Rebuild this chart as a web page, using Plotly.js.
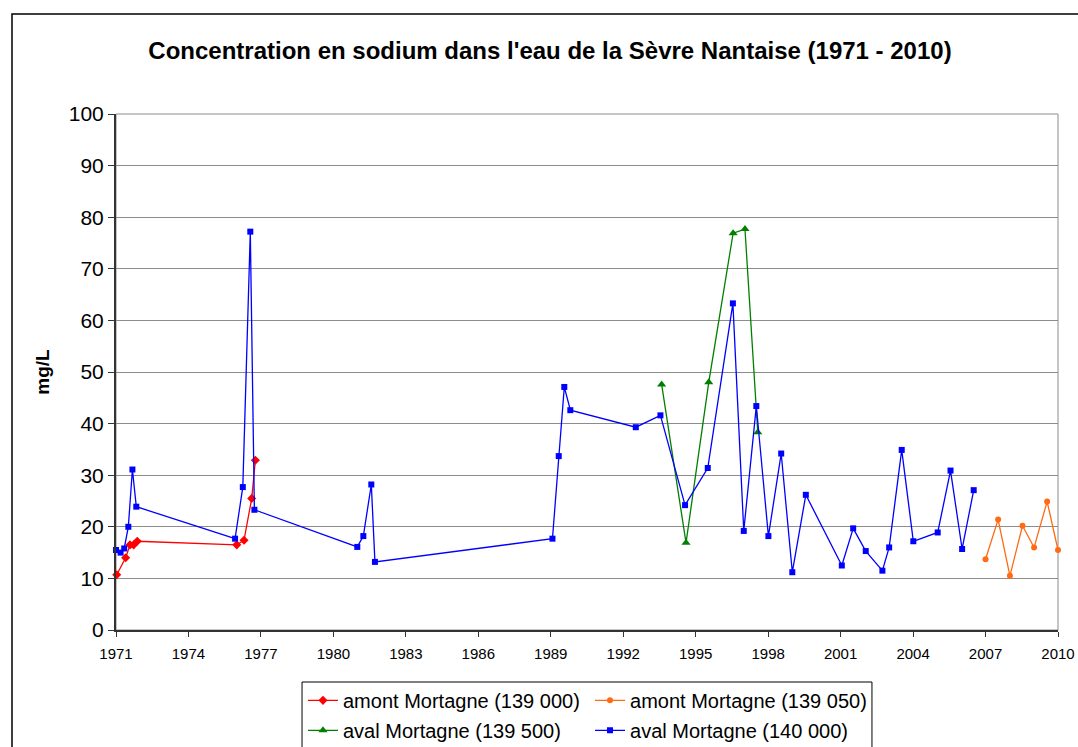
<!DOCTYPE html>
<html>
<head>
<meta charset="utf-8">
<script src="https://cdn.plot.ly/plotly-3.0.1.min.js"></script>
<style>
html,body{margin:0;padding:0;background:#fff;overflow:hidden;}
#chart{width:1078px;height:747px;}
</style>
</head>
<body>
<div id="chart"></div>
<script>
// ---- data (decimal years, mg/L) ----
const amont139000_x = [1971.03, 1971.40, 1971.58, 1971.73, 1971.88, 1976.00, 1976.30, 1976.62, 1976.77];
const amont139000_y = [10.7, 14.0, 16.5, 16.5, 17.2, 16.5, 17.4, 25.5, 32.9];

const amont139050_x = [2007.00, 2007.52, 2008.01, 2008.53, 2009.01, 2009.55, 2010.00];
const amont139050_y = [13.7, 21.4, 10.5, 20.2, 16.0, 24.9, 15.5];

const aval139500_x = [1993.59, 1994.60, 1995.54, 1996.55, 1997.04, 1997.57];
const aval139500_y = [47.6, 16.9, 48.0, 76.9, 77.7, 38.3];

const aval140000_x = [1971.00, 1971.19, 1971.34, 1971.51, 1971.68, 1971.84, 1975.93, 1976.25, 1976.56, 1976.73,
  1980.99, 1981.24, 1981.57, 1981.72, 1989.07, 1989.33, 1989.56, 1989.81, 1992.52, 1993.54,
  1994.56, 1995.50, 1996.54, 1996.99, 1997.51, 1998.01, 1998.54, 1999.00, 1999.56, 2001.05,
  2001.52, 2002.04, 2002.73, 2003.01, 2003.53, 2004.01, 2005.02, 2005.55, 2006.03, 2006.51];
const aval140000_y = [15.5, 15.0, 15.8, 20.0, 31.1, 23.9, 17.7, 27.7, 77.2, 23.3,
  16.1, 18.2, 28.2, 13.2, 17.7, 33.7, 47.1, 42.6, 39.3, 41.6,
  24.2, 31.4, 63.3, 19.2, 43.4, 18.2, 34.2, 11.2, 26.2, 12.5,
  19.7, 15.3, 11.5, 16.0, 34.9, 17.2, 18.9, 30.9, 15.7, 27.1];

const seriesNames = ["amont Mortagne (139 000)", "amont Mortagne (139 050)", "aval Mortagne (139 500)", "aval Mortagne (140 000)"];
const xTickYears = [1971, 1974, 1977, 1980, 1983, 1986, 1989, 1992, 1995, 1998, 2001, 2004, 2007, 2010];
const yTicks = [0, 10, 20, 30, 40, 50, 60, 70, 80, 90, 100];

const FONT = "Arial, 'Liberation Sans', sans-serif";

function tr(x, y, name, color, symbol, size, legend, group) {
  return {
    type: 'scatter', mode: 'lines+markers', x: x, y: y, name: name,
    line: {color: color, width: 1.3},
    marker: {color: color, symbol: symbol, size: size, line: {width: 0}},
    legend: legend, legendgroup: group, cliponaxis: false
  };
}

const data = [
  tr(amont139000_x, amont139000_y, seriesNames[0], '#FF0000', 'diamond', 7, 'legend', 'a'),
  tr(amont139050_x, amont139050_y, seriesNames[1], '#FF6A13', 'circle', 6, 'legend2', 'b'),
  tr(aval139500_x, aval139500_y, seriesNames[2], '#008000', 'triangle-up', 8, 'legend', 'c'),
  tr(aval140000_x, aval140000_y, seriesNames[3], '#0000FF', 'square', 6, 'legend2', 'd')
];

const legendCommon = {
  orientation: 'v', traceorder: 'grouped', tracegroupgap: 1,
  font: {family: FONT, size: 20, color: '#000'},
  bgcolor: 'rgba(0,0,0,0)', borderwidth: 0,
  xanchor: 'left', yanchor: 'top', y: -0.0985
};

const layout = {
  width: 1078, height: 747,
  paper_bgcolor: '#fff', plot_bgcolor: '#fff',
  margin: {l: 116, r: 20, t: 114, b: 117, autoexpand: false},
  title: {
    text: "Concentration en sodium dans l'eau de la Sèvre Nantaise (1971 - 2010)",
    font: {family: FONT, size: 24, color: '#000', weight: 'bold'},
    xref: 'container', x: 0.5102, xanchor: 'center',
    yref: 'container', y: 0.932, yanchor: 'middle'
  },
  xaxis: {
    range: [1971, 2010], tickmode: 'array', tickvals: xTickYears, ticktext: xTickYears.map(String),
    showgrid: false, zeroline: false,
    showline: true, linecolor: '#333', linewidth: 2,
    ticks: 'outside', ticklen: 5, tickcolor: '#333', tickwidth: 1,
    ticklabelstandoff: 4,
    tickfont: {family: FONT, size: 15, color: '#000'}
  },
  yaxis: {
    range: [0, 100], tickmode: 'array', tickvals: yTicks,
    showgrid: true, gridcolor: '#8c8c8c', gridwidth: 1,
    zeroline: false,
    showline: true, linecolor: '#333', linewidth: 2,
    ticks: 'outside', ticklen: 6, tickcolor: '#333', tickwidth: 1,
    tickfont: {family: FONT, size: 21, color: '#000'},
    title: {text: 'mg/L', font: {family: FONT, size: 19, color: '#000', weight: 'bold'}, standoff: 14}
  },
  legend: Object.assign({}, legendCommon, {x: 0.1985}),
  legend2: Object.assign({}, legendCommon, {x: 0.5032}),
  shapes: [
    // plot area border
    {type: 'rect', xref: 'paper', yref: 'paper', x0: 0, x1: 1, y0: 0, y1: 1,
     line: {color: '#8c8c8c', width: 1}, layer: 'below'},
    // legend box
    {type: 'rect', xref: 'paper', yref: 'paper', x0: 0.1975, x1: 0.8025, y0: -0.1008, y1: -0.26,
     line: {color: '#000', width: 1}, layer: 'above'},
    // outer chart border
    {type: 'rect', xref: 'paper', yref: 'paper', x0: -0.1104, x1: 1.2, y0: 1.1938, y1: -0.4,
     line: {color: '#000', width: 1.5}, layer: 'above'}
  ],
  showlegend: true
};

Plotly.newPlot('chart', data, layout, {displayModeBar: false, staticPlot: true});
</script>
</body>
</html>
